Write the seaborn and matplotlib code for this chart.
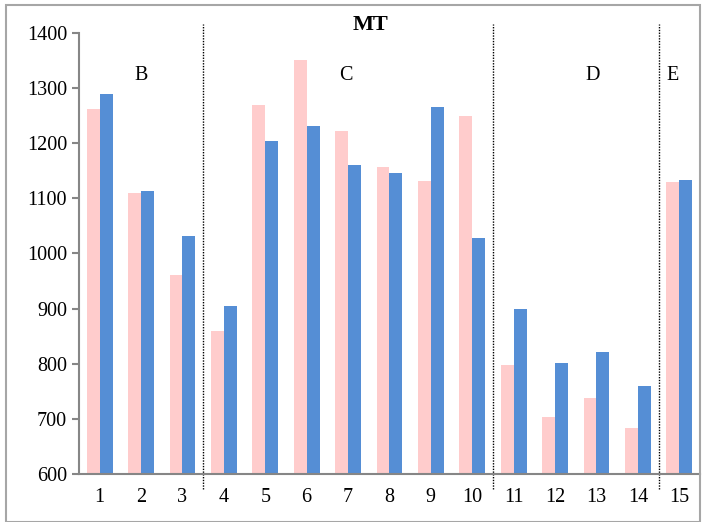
import seaborn as sns
import matplotlib.pyplot as plt
import pandas as pd
from matplotlib.patches import Rectangle

samples = [str(i) for i in range(1, 16)]
pink_vals = [1262, 1109, 961, 860, 1270, 1351, 1223, 1157, 1131, 1249, 798, 704, 737, 683, 1130]
blue_vals = [1289, 1113, 1032, 904, 1204, 1232, 1160, 1146, 1266, 1028, 899, 801, 822, 760, 1134]
groups = ['B', 'C', 'D', 'E']
group_x = [1.0, 5.95, 11.9, 13.85]
dividers = [2.5, 9.5, 13.5]

df = pd.DataFrame({
    'sample': samples * 2,
    'value': pink_vals + blue_vals,
    'series': ['a'] * 15 + ['b'] * 15,
})

sns.set_style('white')
plt.rcParams['font.family'] = ['Liberation Serif', 'DejaVu Serif']
plt.rcParams['text.color'] = 'black'
plt.rcParams['xtick.color'] = 'black'
plt.rcParams['ytick.color'] = 'black'

fig = plt.figure(figsize=(7.02, 5.22), dpi=100)
ax = fig.add_axes([0.1125, 0.092, 0.8846, 0.8448])

sns.barplot(data=df, x='sample', y='value', hue='series', order=samples,
            palette=['#FFCCCC', '#558ED5'], width=0.62, gap=0, ax=ax,
            legend=False, saturation=1, linewidth=0)

ax.set_ylim(600, 1400)
ax.set_xlim(-0.5, 14.5)
ax.set_yticks(range(600, 1401, 100))
ax.set_xlabel('')
ax.set_ylabel('')
for s in ['top', 'right']:
    ax.spines[s].set_visible(False)
for s in ['left', 'bottom']:
    ax.spines[s].set_color('#868686')
    ax.spines[s].set_linewidth(1.5)

ax.set_xticks([i + 0.5 for i in range(-1, 15)], minor=True)
ax.tick_params(axis='x', which='major', length=0, labelsize=14.5, pad=10)
ax.tick_params(axis='x', which='minor', length=6, width=1.5, color='#868686', direction='out')
ax.tick_params(axis='y', length=5, width=1.5, color='#868686', labelcolor='black',
               direction='out', labelsize=14.5, left=True)

for d in dividers:
    ax.plot([d, d], [-0.034, 1.02], transform=ax.get_xaxis_transform(),
            color='black', ls=(0, (1, 1)), lw=1, clip_on=False)

for g, gx in zip(groups, group_x):
    ax.text(gx, 1322, g, ha='center', va='center', fontsize=14.5)

ax.text(6.55, 1414, 'MT', ha='center', va='center', fontsize=16,
        fontweight='bold', clip_on=False)

fig.patches.append(Rectangle((6 / 702, 0), 694 / 702, 517 / 522, transform=fig.transFigure,
                             fill=False, edgecolor='#A6A6A6', lw=1.5))

fig.savefig('out.png', dpi=100)
